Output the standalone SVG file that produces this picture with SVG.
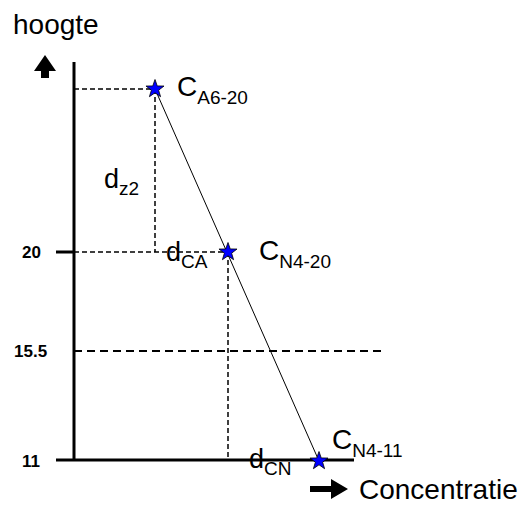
<svg xmlns="http://www.w3.org/2000/svg" width="522" height="506" viewBox="0 0 522 506">
<style>
text{font-family:"Liberation Sans",Arial,sans-serif;fill:#000}
.lbl{font-size:28px}
.dl{font-size:27px}
.tick{font-size:17px;font-weight:bold}
.axis{stroke:#000;stroke-width:3;fill:none}
.dash{stroke:#000;stroke-width:1.5;stroke-dasharray:5,3;fill:none}
.dash2{stroke:#000;stroke-width:2;stroke-dasharray:8,5;fill:none}
.star{fill:#0000ff;stroke:#000;stroke-width:0.8}
</style>
<defs>
<polygon id="star" class="star" points="0,-9.5 2.24,-3.07 9.03,-2.94 3.61,1.17 5.58,7.69 0,3.8 -5.58,7.69 -3.61,1.17 -9.03,-2.94 -2.24,-3.07"/>
</defs>
<rect width="522" height="506" fill="#fff"/>
<g id="axes">
<line class="axis" x1="74" y1="62" x2="74" y2="461"/>
<line class="axis" x1="56" y1="460" x2="354" y2="460"/>
<line class="axis" x1="56" y1="252" x2="74" y2="252"/>
<polygon points="45,55 56,71 49,71 49,78 41,78 41,71 34,71" fill="#000"/>
<polygon points="310,486 331,486 331,479 348,489 331,499 331,492 310,492" fill="#000"/>
<text x="13" y="34" class="lbl">hoogte</text>
<text x="359" y="499" class="lbl">Concentratie</text>
<text x="22" y="258" class="tick">20</text>
<text x="14" y="357" class="tick">15.5</text>
<text x="22" y="467" class="tick">11</text>
</g>
<g id="connectors">
<line class="dash" x1="74" y1="89" x2="155" y2="89"/>
<line class="dash" x1="155" y1="89" x2="155" y2="252"/>
<line class="dash" x1="74" y1="252" x2="228" y2="252"/>
<line class="dash" x1="228" y1="252" x2="228" y2="460"/>
<line class="dash2" x1="74" y1="351" x2="385" y2="351"/>
<line x1="155" y1="89" x2="319" y2="461" stroke="#000" stroke-width="1"/>
</g>
<g id="C_A6-20">
<use href="#star" x="155" y="89"/>
<text x="177" y="96" class="lbl">C<tspan font-size="19" dy="8">A6-20</tspan></text>
</g>
<g id="C_N4-20">
<use href="#star" x="228" y="252"/>
<text x="259" y="260" class="lbl">C<tspan font-size="19" dy="8">N4-20</tspan></text>
</g>
<g id="C_N4-11">
<use href="#star" x="319" y="461"/>
<text x="332" y="449" class="lbl">C<tspan font-size="19" dy="8">N4-11</tspan></text>
</g>
<g id="d_z2">
<text x="104" y="188" class="dl">d<tspan font-size="19" dy="7">z2</tspan></text>
</g>
<g id="d_CA">
<text x="166" y="261" class="dl">d<tspan font-size="19" dy="7">CA</tspan></text>
</g>
<g id="d_CN">
<text x="249" y="468" class="dl">d<tspan font-size="19" dy="7">CN</tspan></text>
</g>
</svg>
